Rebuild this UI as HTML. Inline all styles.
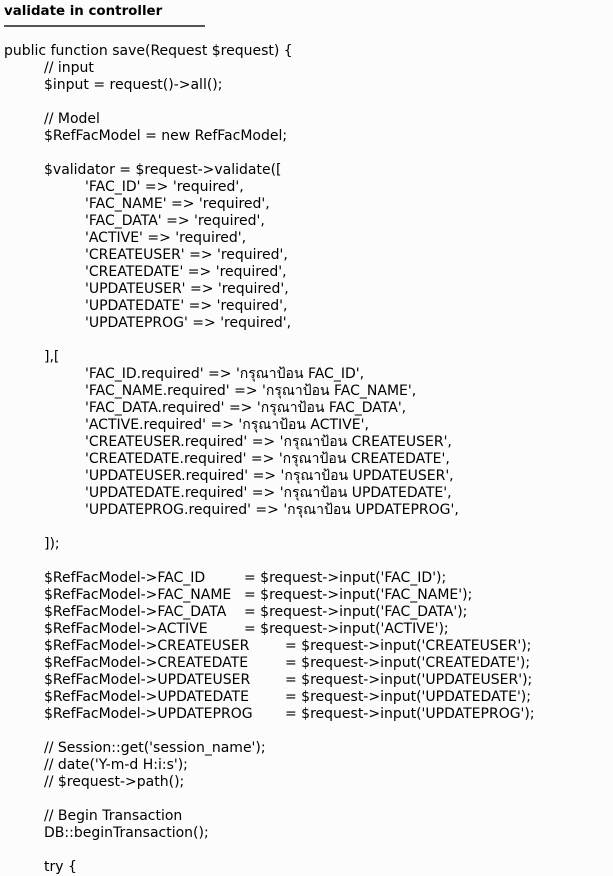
<!DOCTYPE html>
<html><head><meta charset="utf-8"><style>
html,body{margin:0;padding:0;background:#fcfcfc;width:613px;height:876px;overflow:hidden}
body{position:relative;font-family:"DejaVu Sans","Liberation Sans",sans-serif;font-size:14px;color:#000}
.t{position:absolute;left:4px;top:4px;font-weight:bold;font-size:13.4px;font-family:"DejaVu Sans",sans-serif}
.r{position:absolute;left:4px;top:25px;width:201px;height:2px;background:#555}
.c{position:absolute;left:0;top:43px;line-height:17px}
.c div{height:17px;position:relative;white-space:pre}
.l1{padding-left:44px}.l2{padding-left:85px}
.e1{position:absolute;left:244px}.e2{position:absolute;left:285px}
</style></head><body>
<div class="t">validate in controller</div>
<div class="r"></div>
<div class="c"><div style="padding-left:4px">public function save(Request $request) {</div><div class="l1">// input</div><div class="l1">$input = request()-&gt;all();</div><div></div><div class="l1">// Model</div><div class="l1">$RefFacModel = new RefFacModel;</div><div></div><div class="l1">$validator = $request-&gt;validate([</div><div class="l2">'FAC_ID' =&gt; 'required',</div><div class="l2">'FAC_NAME' =&gt; 'required',</div><div class="l2">'FAC_DATA' =&gt; 'required',</div><div class="l2">'ACTIVE' =&gt; 'required',</div><div class="l2">'CREATEUSER' =&gt; 'required',</div><div class="l2">'CREATEDATE' =&gt; 'required',</div><div class="l2">'UPDATEUSER' =&gt; 'required',</div><div class="l2">'UPDATEDATE' =&gt; 'required',</div><div class="l2">'UPDATEPROG' =&gt; 'required',</div><div></div><div class="l1">],[</div><div class="l2">'FAC_ID.required' =&gt; 'กรุณาป้อน FAC_ID',</div><div class="l2">'FAC_NAME.required' =&gt; 'กรุณาป้อน FAC_NAME',</div><div class="l2">'FAC_DATA.required' =&gt; 'กรุณาป้อน FAC_DATA',</div><div class="l2">'ACTIVE.required' =&gt; 'กรุณาป้อน ACTIVE',</div><div class="l2">'CREATEUSER.required' =&gt; 'กรุณาป้อน CREATEUSER',</div><div class="l2">'CREATEDATE.required' =&gt; 'กรุณาป้อน CREATEDATE',</div><div class="l2">'UPDATEUSER.required' =&gt; 'กรุณาป้อน UPDATEUSER',</div><div class="l2">'UPDATEDATE.required' =&gt; 'กรุณาป้อน UPDATEDATE',</div><div class="l2">'UPDATEPROG.required' =&gt; 'กรุณาป้อน UPDATEPROG',</div><div></div><div class="l1">]);</div><div></div><div class="l1">$RefFacModel-&gt;FAC_ID<span class="e1">= $request-&gt;input('FAC_ID');</span></div><div class="l1">$RefFacModel-&gt;FAC_NAME<span class="e1">= $request-&gt;input('FAC_NAME');</span></div><div class="l1">$RefFacModel-&gt;FAC_DATA<span class="e1">= $request-&gt;input('FAC_DATA');</span></div><div class="l1">$RefFacModel-&gt;ACTIVE<span class="e1">= $request-&gt;input('ACTIVE');</span></div><div class="l1">$RefFacModel-&gt;CREATEUSER<span class="e2">= $request-&gt;input('CREATEUSER');</span></div><div class="l1">$RefFacModel-&gt;CREATEDATE<span class="e2">= $request-&gt;input('CREATEDATE');</span></div><div class="l1">$RefFacModel-&gt;UPDATEUSER<span class="e2">= $request-&gt;input('UPDATEUSER');</span></div><div class="l1">$RefFacModel-&gt;UPDATEDATE<span class="e2">= $request-&gt;input('UPDATEDATE');</span></div><div class="l1">$RefFacModel-&gt;UPDATEPROG<span class="e2">= $request-&gt;input('UPDATEPROG');</span></div><div></div><div class="l1">// Session::get('session_name');</div><div class="l1">// date('Y-m-d H:i:s');</div><div class="l1">// $request-&gt;path();</div><div></div><div class="l1">// Begin Transaction</div><div class="l1">DB::beginTransaction();</div><div></div><div class="l1">try {</div></div>
</body></html>
